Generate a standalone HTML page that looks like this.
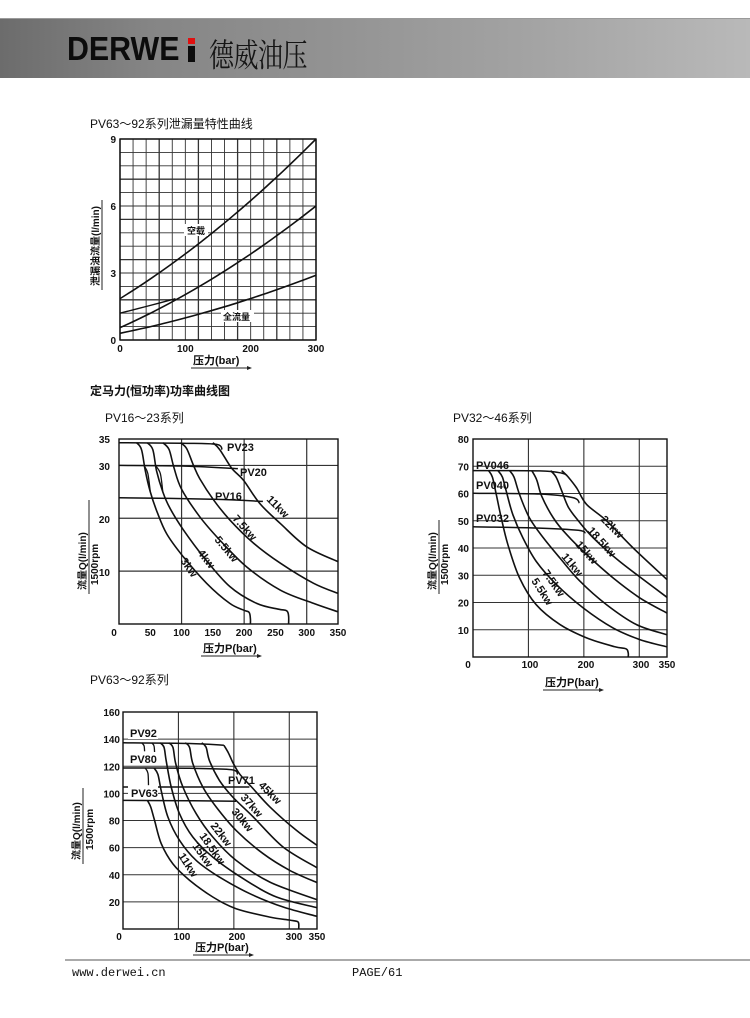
<!DOCTYPE html>
<html><head><meta charset="utf-8"><style>
html,body{margin:0;padding:0;background:#fff;}
#wrap{position:relative;width:750px;height:1018px;overflow:hidden;font-family:"Liberation Sans","Noto Sans CJK SC",sans-serif;}
#hdr{position:absolute;left:0;top:18px;width:750px;height:59px;background:linear-gradient(90deg,#6c6c6c 0%,#858585 20%,#939393 45%,#a6a6a6 75%,#b9b9b9 100%);border-top:1px solid #9a9a9a;}
#logo{position:absolute;left:67px;top:29px;font:bold 33px "Liberation Sans",sans-serif;color:#0c0c0c;line-height:40px;transform-origin:0 0;transform:scaleX(0.92);}
#ibar{position:absolute;left:188px;top:46px;width:7px;height:16px;background:#0c0c0c;}
#red{position:absolute;left:188px;top:38px;width:7px;height:6px;background:#e01010;}
#cn{position:absolute;left:209px;top:30px;font:25px "Noto Serif CJK SC","Noto Sans CJK SC",serif;color:#151515;line-height:36px;letter-spacing:-0.5px;transform-origin:0 0;transform:scaleY(1.3);}
svg{position:absolute;left:0;top:0;}
</style></head><body><div id="wrap">
<div id="hdr"></div>
<div id="logo">DERWE</div>
<div id="ibar"></div>
<div id="red"></div>
<div id="cn">德威油压</div>
<svg id="s" width="750" height="1018" xmlns="http://www.w3.org/2000/svg" font-family="Liberation Sans, Noto Sans CJK SC, sans-serif"></svg>
</div>
<script>
var S=document.getElementById('s'),out='';
function T(x,y,t,o){o=o||{};out+='<text x="'+x+'" y="'+y+'" font-size="'+(o.s||11)+'"'+(o.b?' font-weight="bold"':'')+(o.a?' text-anchor="'+o.a+'"':'')+(o.r!=null?' transform="rotate('+o.r+' '+x+' '+y+')"':'')+' fill="#111">'+t+'</text>';}
function L(x1,y1,x2,y2,w,c){out+='<line x1="'+x1+'" y1="'+y1+'" x2="'+x2+'" y2="'+y2+'" stroke="'+(c||'#222')+'" stroke-width="'+(w||1)+'"/>';}
function smooth(p){var d='M'+p[0][0].toFixed(1)+' '+p[0][1].toFixed(1);for(var i=0;i<p.length-1;i++){var a=p[i-1]||p[i],b=p[i],c=p[i+1],e=p[i+2]||c;d+=' C'+(b[0]+(c[0]-a[0])/6).toFixed(1)+' '+(b[1]+(c[1]-a[1])/6).toFixed(1)+' '+(c[0]-(e[0]-b[0])/6).toFixed(1)+' '+(c[1]-(e[1]-b[1])/6).toFixed(1)+' '+c[0].toFixed(1)+' '+c[1].toFixed(1);}return d;}
function chart(x0,y0,w,h,pm,qm){return {px:function(P){return x0+P/pm*w},py:function(Q){return y0-Q/qm*h},x0:x0,y0:y0,w:w,h:h};}
function curve(c,pts,sw){var p=pts.map(function(q){return [c.px(q[0]),c.py(q[1])]});out+='<path d="'+smooth(p)+'" fill="none" stroke="#111" stroke-width="'+(sw||1.6)+'"/>';}
function flat(c,pts){var p=pts.map(function(q){return [c.px(q[0]),c.py(q[1])]});out+='<path d="'+smooth(p)+'" fill="none" stroke="#111" stroke-width="1.5"/>';}
function axlabel(x,y,t,w){T(x,y,t,{s:11,b:1});L(x-2,y+4,x+w,y+4,1,'#222');out+='<path d="M'+(x+w)+' '+(y+2)+' l5 2 l-5 2z" fill="#222"/>';}

// ---------- Chart 1 ----------
T(90,128,'PV63～92系列泄漏量特性曲线',{s:12});
var c1=chart(120,340,196,201,300,9);
for(var i=0;i<=15;i++){var x=120+i*196/15,y=340-i*201/15;var th=(i%3==0)?1.3:0.9;L(x,139,x,340,th,'#333');L(120,y,316,y,th,'#333');}
out+='<rect x="120" y="139" width="196" height="201" fill="none" stroke="#111" stroke-width="1.4"/>';
function q1(a,b,c){var r=[];for(var P=0;P<=300;P+=25)r.push([P,a+b*P+c*P*P]);return r;}
curve(c1,q1(1.85,0.01817,1.89e-5));
curve(c1,q1(0.55,0.01317,1.667e-5));
curve(c1,q1(0.3,0.006,8.9e-6));
curve(c1,[[0,1.2],[40,1.5],[85,1.85]],1.4);
out+='<rect x="184" y="224" width="24" height="12" fill="#fff"/><rect x="221" y="310" width="33" height="12" fill="#fff"/>';
T(187,234,'空载',{s:9,b:1});T(223,320,'全流量',{s:9,b:1});
T(116,143,'9',{s:10,b:1,a:'end'});T(116,210,'6',{s:10,b:1,a:'end'});T(116,277,'3',{s:10,b:1,a:'end'});T(116,344,'0',{s:10,b:1,a:'end'});
[[0,'0'],[100,'100'],[200,'200'],[300,'300']].forEach(function(t){T(c1.px(t[0]),352,t[1],{s:10,b:1,a:'middle'});});
T(99,286,'泄漏油流量(l/min)',{s:10,b:1,r:-90});L(102,290,102,200,1);
axlabel(193,364,'压力(bar)',54);

T(90,395,'定马力(恒功率)功率曲线图',{s:12,b:1});

// ---------- Chart 2 ----------
T(105,422,'PV16～23系列',{s:12});
var c2=chart(119,624,219,185,350,35);
[10,20,30].forEach(function(q){L(119,c2.py(q),338,c2.py(q),1.2,'#333');});
[100,200,300].forEach(function(p){L(c2.px(p),439,c2.px(p),624,1.2,'#333');});
out+='<rect x="119" y="439" width="219" height="185" fill="none" stroke="#111" stroke-width="1.4"/>';
flat(c2,[[0,34.3],[100,34.2],[155,34],[165,33]]);
flat(c2,[[0,30],[100,29.9],[190,29.4]]);
flat(c2,[[0,23.9],[150,23.6],[230,23.2]]);
curve(c2,[[150,34.3],[161,33],[180,29.5],[199,27.2],[225,22.8],[258,19],[300,14.6],[350,11.8]]);
curve(c2,[[98,34.3],[108,33.2],[119,30],[129,27.5],[151,23.5],[177,19.7],[215,15.3],[258,11.5],[311,7.7],[350,5.8]]);
curve(c2,[[70,34.3],[80,33],[88,29.5],[100,25.5],[129,20.3],[161,15.9],[204,10.8],[258,6.4],[311,3.9],[350,2.3]]);
curve(c2,[[45,34.3],[54,33],[60,29],[70,25],[81,22],[103,17.8],[135,12.7],[177,7.1],[220,3.9],[255,2.8],[268,2.5],[271,1.5],[271,0]]);
curve(c2,[[28,34.3],[36,33],[42,29],[50,25],[60,21.5],[76,17.1],[103,12.7],[140,7.7],[177,3.9],[200,2.6],[208,2.2],[210,1],[210,0]]);
curve(c2,[[40,30],[46,28.5],[50,25]],1.3);curve(c2,[[58,30],[66,28.5],[70,25]],1.3);
T(227,451,'PV23',{s:11,b:1});T(240,476,'PV20',{s:11,b:1});T(215,500,'PV16',{s:11,b:1});
T(266,500,'11kw',{s:11,b:1,r:45});T(232,519,'7.5kw',{s:11,b:1,r:48});T(214,540,'5.5kw',{s:11,b:1,r:50});T(197,553,'4kw',{s:11,b:1,r:52});T(180,561,'3kw',{s:11,b:1,r:55});
[[35,443],[30,470],[20,523],[10,576]].forEach(function(t){T(110,t[1],t[0],{s:10,b:1,a:'end'});});
T(114,636,'0',{s:10,b:1,a:'middle'});
[50,100,150,200,250,300,350].forEach(function(p){T(c2.px(p),636,p,{s:10,b:1,a:'middle'});});
T(86,590,'流量Q(l/min)',{s:10,b:1,r:-90});L(89,594,89,500,1);T(98,585,'1500rpm',{s:10,b:1,r:-90});
axlabel(203,652,'压力P(bar)',54);

// ---------- Chart 3 ----------
T(453,422,'PV32～46系列',{s:12});
var c3=chart(473,657,194,218,350,80);
for(var q=10;q<80;q+=10)L(473,c3.py(q),667,c3.py(q),1.1,'#333');
[100,200,300].forEach(function(p){L(c3.px(p),439,c3.px(p),657,1.1,'#333');});
out+='<rect x="473" y="439" width="194" height="218" fill="none" stroke="#111" stroke-width="1.4"/>';
flat(c3,[[0,68.4],[120,68.3],[160,67.5],[170,66.5]]);
flat(c3,[[0,60.1],[120,59.8],[180,58.5],[192,56.5]]);
flat(c3,[[0,47.8],[120,47.3],[190,46.5],[203,45.5]]);
curve(c3,[[160,68.4],[172,66],[187,62],[205,56],[241,50],[289,40],[350,28.4]]);
curve(c3,[[140,68.4],[150,66],[160,61],[172,55],[190,50],[217,43.7],[265,35],[350,21.9]]);
curve(c3,[[106,68.4],[115,65],[124,59],[145,51],[169,44.9],[205,37.6],[253,29],[301,21.7],[350,16.1]]);
curve(c3,[[66,68.4],[74,66],[84,59.6],[102,51],[127,43.7],[157,36.3],[193,27.8],[241,19.2],[295,11.9],[350,8.2]]);
curve(c3,[[45,68.4],[53,66],[60,60.8],[72,52.2],[90,43.7],[114,35.1],[151,26.5],[199,18],[253,10.6],[301,6.4],[350,3.7]]);
curve(c3,[[28,68.4],[35,66],[42,59.6],[51,51],[63,41.2],[84,29],[114,19.2],[157,11.9],[205,7],[255,3.8],[276,3],[280,1.5],[280,0]]);
T(476,469,'PV046',{s:11,b:1});T(476,489,'PV040',{s:11,b:1});T(476,522,'PV032',{s:11,b:1});
T(600,520,'22kw',{s:11,b:1,r:45});T(587,531,'18.5kw',{s:11,b:1,r:48});T(575,545,'15kw',{s:11,b:1,r:48});T(561,557,'11kw',{s:11,b:1,r:50});T(542,573,'7.5kw',{s:11,b:1,r:55});T(531,581,'5.5kw',{s:11,b:1,r:57});
for(var q=10;q<=80;q+=10)T(469,c3.py(q)+4,q,{s:10,b:1,a:'end'});
T(468,668,'0',{s:10,b:1,a:'middle'});T(530,668,'100',{s:10,b:1,a:'middle'});T(586,668,'200',{s:10,b:1,a:'middle'});T(641,668,'300',{s:10,b:1,a:'middle'});T(667,668,'350',{s:10,b:1,a:'middle'});
T(436,590,'流量Q(l/min)',{s:10,b:1,r:-90});L(439,594,439,520,1);T(448,585,'1500rpm',{s:10,b:1,r:-90});
axlabel(545,686,'压力P(bar)',54);

// ---------- Chart 4 ----------
T(90,684,'PV63～92系列',{s:12});
var c4=chart(123,929,194,217,350,160);
for(var q=20;q<160;q+=20)L(123,c4.py(q),317,c4.py(q),1.1,'#333');
[100,200,300].forEach(function(p){L(c4.px(p),712,c4.px(p),929,1.1,'#333');});
out+='<rect x="123" y="712" width="194" height="217" fill="none" stroke="#111" stroke-width="1.4"/>';
flat(c4,[[0,137.3],[120,136.8],[182,135.5]]);
flat(c4,[[0,118.7],[120,118.5],[195,117.5],[207,114]]);
flat(c4,[[0,104.7],[150,104.7],[228,104.7]]);
flat(c4,[[0,94.8],[120,94.6],[204,94.2]]);
curve(c4,[[182,135.5],[190,130],[198,123],[210,114.5],[232,104.7],[265,90],[313,72.7],[350,61.7]]);
curve(c4,[[142,137.3],[150,134],[156,124],[174,109.6],[198,97.3],[235,82.6],[289,60.4],[350,45.2]]);
curve(c4,[[112,137.3],[120,134],[126,122],[144,104.7],[168,90],[204,72.7],[253,55.5],[301,43.2],[350,34.2]]);
curve(c4,[[82,137.3],[90,134],[95,122],[108,104.7],[132,85],[162,67.8],[204,50.6],[265,34.6],[350,21.6]]);
curve(c4,[[67,137.3],[74,134],[78,124],[87,104.7],[102,85],[126,67.8],[162,53],[217,37.1],[277,23.6],[350,15.7]]);
curve(c4,[[56,118.7],[63,114],[69,102],[81,82.6],[102,65.4],[132,50.6],[174,38.3],[229,26],[289,16.2],[350,9.3]]);
curve(c4,[[44,94.8],[50,90],[57,80],[69,63],[90,48],[120,36],[162,23.6],[204,15],[265,8.8],[300,6.6],[314,5.6],[317,4],[317,0]]);
curve(c4,[[34,137.3],[38,135],[39,131]],1.3);curve(c4,[[52,137.3],[56,135],[57,130]],1.3);curve(c4,[[40,118.7],[45,115],[46,106]],1.3);
out+='<rect x="128" y="727" width="30" height="12" fill="#fff"/><rect x="128" y="752" width="30" height="12" fill="#fff"/><rect x="128" y="786" width="30" height="12" fill="#fff"/>';
T(130,737,'PV92',{s:11,b:1});T(130,763,'PV80',{s:11,b:1});T(131,797,'PV63',{s:11,b:1});T(228,784,'PV71',{s:11,b:1});
T(258,786,'45kw',{s:11,b:1,r:45});T(240,798,'37kw',{s:11,b:1,r:48});T(231,812,'30kw',{s:11,b:1,r:50});T(210,826,'22kw',{s:11,b:1,r:52});T(199,836,'18.5kw',{s:11,b:1,r:55});T(192,846,'15kw',{s:11,b:1,r:55});T(178,856,'11kw',{s:11,b:1,r:57});
for(var q=20;q<=160;q+=20)T(120,c4.py(q)+4,q,{s:10,b:1,a:'end'});
T(119,940,'0',{s:10,b:1,a:'middle'});T(182,940,'100',{s:10,b:1,a:'middle'});T(237,940,'200',{s:10,b:1,a:'middle'});T(294,940,'300',{s:10,b:1,a:'middle'});T(317,940,'350',{s:10,b:1,a:'middle'});
T(80,860,'流量Q(l/min)',{s:10,b:1,r:-90});L(83,864,83,788,1);T(93,850,'1500rpm',{s:10,b:1,r:-90});
axlabel(195,951,'压力P(bar)',54);

// footer
L(65,960,750,960,1.2,'#777');
out+='<text x="72" y="976" font-size="12" font-family="Liberation Mono, monospace" fill="#111">www.derwei.cn</text>';
out+='<text x="352" y="976" font-size="12" font-family="Liberation Mono, monospace" fill="#111">PAGE/61</text>';
S.innerHTML=out;
</script>
</body></html>
